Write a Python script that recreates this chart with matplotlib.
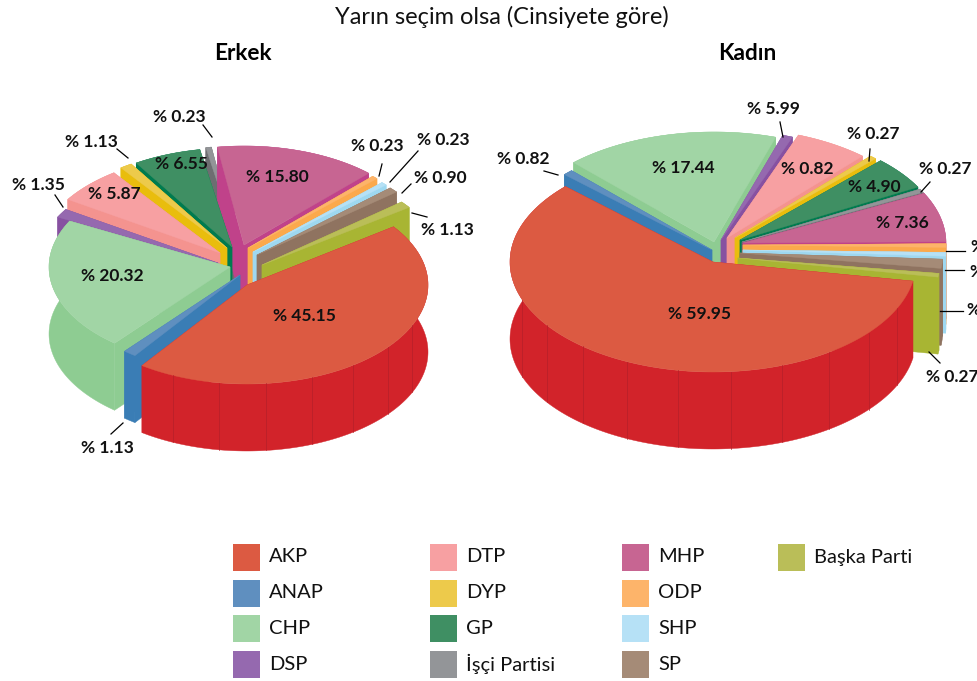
import numpy as np
import matplotlib
matplotlib.use("Agg")
import matplotlib.pyplot as plt
from matplotlib.patches import Polygon, Rectangle

parties = ["AKP", "ANAP", "CHP", "DSP", "DTP", "DYP", "GP", "İşçi Partisi",
           "MHP", "ODP", "SHP", "SP", "Başka Parti"]
erkek_values = [45.15, 1.13, 20.32, 1.35, 5.87, 1.13, 6.55, 0.23, 15.80, 0.23, 0.23, 0.90, 1.13]
# slice sizes for the women's pie; the picture prints DSP and DTP the other way round
kadin_values = [59.95, 0.82, 17.44, 0.82, 5.99, 0.27, 4.90, 0.27, 7.36, 0.27, 0.27, 1.36, 0.27]
kadin_printed = [59.95, 0.82, 17.44, 5.99, 0.82, 0.27, 4.90, 0.27, 7.36, 0.27, 0.27, 1.36, 0.27]

top_colors = ["#DC5A42", "#5F8FBF", "#A1D5A5", "#9569AF", "#F7A0A2", "#EDCA4B", "#3F8F63",
              "#939598", "#C76592", "#FDB46A", "#B6E1F6", "#A58B77", "#BABE58"]
wall_colors = ["#D2232A", "#3A7DB5", "#8ECC92", "#8751A1", "#F4938F", "#E9BD0D", "#007B4F",
               "#6D6E71", "#C0428A", "#FBA94C", "#9ED8F0", "#8F7360", "#A8B533"]

# how far each slice is pulled out of the pie, in pixels
erkek_explode = [(7, 15), (0, 5), (-10, -3), (-22, -7), (-20, -17), (-13, -22), (-8, -23),
                 (-2, -25), (4, -25), (8, -22), (13, -18), (17, -15), (22, -5)]
kadin_explode = [(-12, 10), (-13, -2), (-11, -10), (-4, -12), (2, -14), (10, -14), (15, -12),
                 (17, -10), (18, -9), (18, -7), (18, -2), (15, 1), (13, 6)]

erkek_label_pos = [(304, 316), (107, 448), (112, 276), (38, 185), (114, 194), (91, 142), (181, 164),
                   (179, 117), (277, 177), (377, 146), (443, 140), (440, 178), (447, 230)]
kadin_label_pos = [(700, 314), (523, 159), (683, 168), (773, 109), (807, 169), (873, 134), (874, 187),
                   (945, 169), (902, 223), (997, 247), (996, 272), (993, 310), (952, 377)]
erkek_leaders = [((123, 423), (111, 434)), ((203, 125), (212, 137)), ((117, 149), (128, 158)),
                 ((55, 195), (63, 207)), ((382, 164), (379, 176)), ((418, 151), (390, 182)),
                 ((411, 184), (402, 193)), ((427, 217), (412, 213))]
kadin_leaders = [((544, 171), (558, 175)), ((780, 122), (783, 137)), ((870, 149), (869, 161)),
                 ((930, 182), (921, 192)), ((965, 251), (946, 251)), ((964, 270), (945, 270)),
                 ((963, 311), (940, 311)), ((940, 363), (929, 352))]

legend_x = [233, 430, 622, 778]
legend_y = [557, 593, 628, 664]

FLOOR = 0.55  # very small parties are drawn a little wider than their share
TEXT_FONT = ["Lato", "DejaVu Sans"]


def arc(tip, rx, ry, a0, a1):
    t = np.radians(np.linspace(a0, a1, max(int(abs(a1 - a0)) * 2, 8)))
    return np.column_stack([tip[0] + rx * np.cos(t), tip[1] + ry * np.sin(t)])


def draw_slice(ax, tip, rx, ry, depth, a0, a1, top, wall, rib_step=None):
    pts = arc(tip, rx, ry, a0, a1)
    down = np.array([0, depth])

    for p in (pts[0], pts[-1]):
        quad = [tip, p, p + down, np.array(tip) + down]
        ax.add_patch(Polygon(quad, fc=wall, ec=wall, lw=0.3))
    ax.add_patch(Polygon(np.vstack([pts, pts[::-1] + down]), fc=wall, ec=wall, lw=0.3))

    if rib_step:
        for a in np.arange(a0 + rib_step, a1, rib_step):
            if np.sin(np.radians(a)) > 0.25:
                p = arc(tip, rx, ry, a, a + 1)[0]
                ax.plot([p[0], p[0]], [p[1], p[1] + depth], color="#B52029", lw=0.5)

    ax.add_patch(Polygon(np.vstack([tip, pts]), fc=top, ec=top, lw=0.3))


def draw_pie(ax, values, explode, cx, cy, rx, ry, depth, start, rib_step, warp):
    sizes = np.maximum(values, FLOOR)
    sweeps = sizes / sizes.sum() * 360
    edges = start + np.concatenate([[0], np.cumsum(sweeps)])
    # the picture's perspective widens the angles on the left of the pie
    amp, centre, width = warp
    edges = edges + amp * np.exp(-((edges - centre) / width) ** 2)
    mids = (edges[:-1] + edges[1:]) / 2

    rest = sorted(range(1, len(values)), key=lambda i: np.sin(np.radians(mids[i])))
    for i in rest + [0]:
        tip = (cx + explode[i][0], cy + explode[i][1])
        draw_slice(ax, tip, rx, ry, depth, edges[i], edges[i + 1],
                   top_colors[i], wall_colors[i], rib_step if i == 0 else None)


def draw_labels(ax, values, positions, leaders):
    for v, (x, y) in zip(values, positions):
        ax.text(x, y, f"% {v:.2f}", family=TEXT_FONT, weight="bold", fontsize=12.5,
                ha="center", va="center", color="#111111")
    for a, b in leaders:
        ax.plot([a[0], b[0]], [a[1], b[1]], color="black", lw=0.9)


fig = plt.figure(figsize=(9.78, 6.81), dpi=100)
ax = fig.add_axes([0, 0, 1, 1])
ax.set_xlim(0, 978)
ax.set_ylim(681, 0)
ax.axis("off")

ax.text(502, 17, "Yarın seçim olsa (Cinsiyete göre)", family=TEXT_FONT, fontsize=17,
        ha="center", va="center", color="#111111")
ax.text(243, 54, "Erkek", family=TEXT_FONT, weight="bold", fontsize=16.3, ha="center", va="center")
ax.text(747, 54, "Kadın", family=TEXT_FONT, weight="bold", fontsize=16.3, ha="center", va="center")

draw_pie(ax, np.array(erkek_values), erkek_explode, 240, 270, 181, 99, 67, -36, 15, (7, 222, 60))
draw_pie(ax, np.array(kadin_values), kadin_explode, 725, 252, 203, 110, 77, 10, 15, (0.5, 215, 35))

draw_labels(ax, erkek_values, erkek_label_pos, erkek_leaders)
draw_labels(ax, kadin_printed, kadin_label_pos, kadin_leaders)

# legend, filled column by column
for i, name in enumerate(parties):
    col = min(i // 4, 3)
    row = i % 4 if i < 12 else 0
    x, y = legend_x[col], legend_y[row]
    ax.add_patch(Rectangle((x, y - 13.5), 27, 27, fc=top_colors[i], ec="none"))
    ax.text(x + 36, y, name, family=TEXT_FONT, fontsize=14.5, ha="left", va="center", color="#111111")

fig.savefig("out.png", dpi=100)
